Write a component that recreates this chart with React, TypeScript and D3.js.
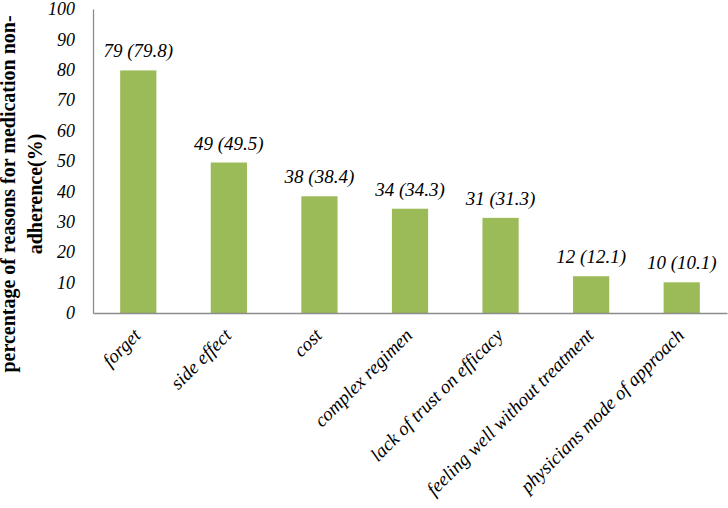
import { useEffect, useRef } from 'react'
import * as d3 from 'd3'

const reasons = [
  'forget',
  'side effect',
  'cost',
  'complex regimen',
  'lack of trust on efficacy',
  'feeling well without treatment',
  'physicians mode of approach',
]
const counts = [79, 49, 38, 34, 31, 12, 10]
const percents = [79.8, 49.5, 38.4, 34.3, 31.3, 12.1, 10.1]
const yTicks = [0, 10, 20, 30, 40, 50, 60, 70, 80, 90, 100]

export default function App() {
  const chartRef = useRef<SVGSVGElement | null>(null)

  useEffect(() => {
    if (!chartRef.current) return

    const svg = d3.select(chartRef.current)
    svg.selectAll('*').remove()

    const width = 728
    const height = 508
    const margin = { top: 9, right: 1, bottom: 195, left: 93 }
    const serif = 'Liberation Serif, DejaVu Serif, serif'
    const axisColor = '#8c8c8c'
    const barColor = '#9bbb59'

    const x = d3.scaleBand().domain(reasons).range([margin.left, width - margin.right]).paddingInner(0.6).paddingOuter(0.3)
    const y = d3.scaleLinear().domain([0, 100]).range([height - margin.bottom, margin.top])

    // Bars
    svg
      .append('g')
      .selectAll('rect')
      .data(reasons)
      .join('rect')
      .attr('x', d => x(d)!)
      .attr('y', (d, i) => y(percents[i]))
      .attr('width', x.bandwidth())
      .attr('height', (d, i) => y(0) - y(percents[i]))
      .attr('fill', barColor)

    // Value labels
    svg
      .append('g')
      .selectAll('text')
      .data(reasons)
      .join('text')
      .attr('x', d => x(d)! + x.bandwidth() / 2)
      .attr('y', (d, i) => y(percents[i]) - 13)
      .attr('text-anchor', 'middle')
      .attr('font-family', serif)
      .attr('font-style', 'italic')
      .attr('font-size', 19)
      .attr('fill', '#000')
      .text((d, i) => `${counts[i]} (${percents[i]})`)

    // Y axis
    const yAxis = svg
      .append('g')
      .attr('transform', `translate(${margin.left},0)`)
      .call(d3.axisLeft(y).tickValues(yTicks).tickSize(0).tickPadding(18))
    yAxis.attr('font-family', serif).attr('font-size', 18)
    yAxis.select('.domain').attr('stroke', axisColor).attr('stroke-width', 1.3)
    yAxis.selectAll('text').attr('font-style', 'italic').attr('fill', '#000')

    // X axis
    const xAxis = svg
      .append('g')
      .attr('transform', `translate(0,${y(0)})`)
      .call(d3.axisBottom(x).tickSize(0).tickSizeOuter(0))
    xAxis.attr('font-family', serif).attr('font-size', 19)
    xAxis.select('.domain').attr('stroke', axisColor).attr('stroke-width', 1.3)
    xAxis
      .selectAll('text')
      .attr('x', 5)
      .attr('y', 0)
      .attr('dy', 0)
      .attr('transform', 'translate(0,27) rotate(-45)')
      .attr('text-anchor', 'end')
      .attr('font-style', 'italic')
      .attr('fill', '#000')

    // Y axis title
    const titleY = 194
    const title = svg
      .append('text')
      .attr('transform', `translate(15,${titleY}) rotate(-90)`)
      .attr('text-anchor', 'middle')
      .attr('font-family', serif)
      .attr('font-weight', 'bold')
      .attr('font-size', 20)
      .attr('fill', '#000')
    title.append('tspan').attr('x', 0).attr('y', 0).text('percentage of reasons for medication non-')
    title.append('tspan').attr('x', 0).attr('y', 27).text('adherence(%)')

    svg.attr('width', width).attr('height', height).style('background', '#fff')
  }, [])

  return <svg ref={chartRef} style={{ position: 'absolute', left: 0, top: 0 }}></svg>
}
